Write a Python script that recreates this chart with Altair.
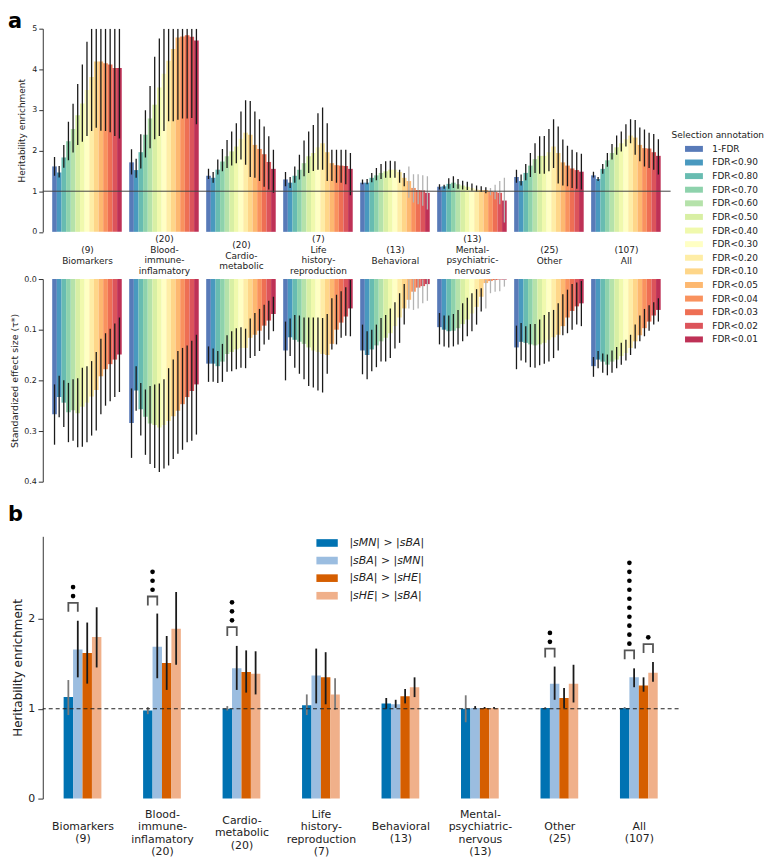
import json
import altair as alt
import pandas as pd

# ---------------- data ----------------
top_labels = ["(9)\nBiomarkers", "(20)\nBlood-\nimmune-\ninflamatory", "(20)\nCardio-\nmetabolic",
              "(7)\nLife\nhistory-\nreproduction", "(13)\nBehavioral", "(13)\nMental-\npsychiatric-\nnervous",
              "(25)\nOther", "(107)\nAll"]
b_labels = ["Biomarkers\n(9)", "Blood-\nimmune-\ninflamatory\n(20)", "Cardio-\nmetabolic\n(20)",
            "Life\nhistory-\nreproduction\n(7)", "Behavioral\n(13)", "Mental-\npsychiatric-\nnervous\n(13)",
            "Other\n(25)", "All\n(107)"]
fdr_labels = ["1-FDR", "FDR<0.90", "FDR<0.80", "FDR<0.70", "FDR<0.60", "FDR<0.50", "FDR<0.40",
              "FDR<0.30", "FDR<0.20", "FDR<0.10", "FDR<0.05", "FDR<0.04", "FDR<0.03", "FDR<0.02", "FDR<0.01"]
fdr_colors = ["#4a6fb2", "#3990ba", "#5bb6aa", "#84cea5", "#afdfa3", "#d5ee9c", "#eff9a6", "#ffffbf",
              "#feeb9e", "#fed27f", "#fdb264", "#f88950", "#ed6345", "#d9454d", "#b92048"]

# heritability enrichment (panel a, top)
enrich = [
    [1.61, 1.46, 1.83, 2.23, 2.53, 2.87, 3.16, 3.49, 3.81, 4.19, 4.19, 4.15, 4.12, 4.03, 4.03],
    [1.71, 1.52, 1.96, 2.39, 2.79, 3.13, 3.55, 3.89, 4.21, 4.50, 4.78, 4.81, 4.84, 4.80, 4.71],
    [1.38, 1.33, 1.53, 1.73, 1.86, 1.98, 2.10, 2.29, 2.44, 2.39, 2.14, 2.04, 1.91, 1.72, 1.55],
    [1.29, 1.21, 1.38, 1.53, 1.69, 1.86, 1.94, 2.08, 2.18, 1.96, 1.69, 1.64, 1.63, 1.62, 1.55],
    [1.21, 1.21, 1.33, 1.39, 1.45, 1.49, 1.53, 1.53, 1.47, 1.33, 1.25, 1.08, 1.03, 1.02, 0.96],
    [1.11, 1.12, 1.18, 1.21, 1.17, 1.14, 1.11, 1.08, 1.04, 1.03, 1.03, 1.00, 0.98, 0.96, 0.77],
    [1.35, 1.25, 1.45, 1.63, 1.79, 1.87, 1.87, 1.96, 2.10, 1.94, 1.71, 1.63, 1.56, 1.52, 1.48],
    [1.39, 1.30, 1.55, 1.76, 1.94, 2.08, 2.18, 2.28, 2.37, 2.32, 2.14, 2.06, 2.05, 1.96, 1.87],
]
enrich_lo = [
    [1.38, 1.34, 1.58, 1.76, 1.95, 2.14, 2.22, 2.36, 2.48, 2.56, 2.49, 2.48, 2.45, 2.36, 2.30],
    [1.41, 1.33, 1.56, 1.83, 2.06, 2.28, 2.36, 2.48, 2.72, 2.72, 2.76, 2.79, 2.79, 2.80, 2.65],
    [1.30, 1.21, 1.41, 1.49, 1.57, 1.63, 1.69, 1.78, 1.65, 1.35, 1.33, 1.25, 1.11, 1.04, 0.96],
    [1.12, 1.08, 1.21, 1.29, 1.37, 1.45, 1.50, 1.53, 1.53, 1.25, 1.25, 1.21, 1.21, 1.17, 0.90],
    [1.17, 1.17, 1.22, 1.27, 1.30, 1.33, 1.33, 1.33, 1.21, 1.12, 0.84, 0.72, 0.68, 0.64, 0.55],
    [1.04, 1.06, 1.06, 1.08, 1.06, 1.04, 1.03, 1.01, 0.99, 0.98, 0.95, 0.90, 0.80, 0.68, 0.23],
    [1.21, 1.14, 1.27, 1.35, 1.45, 1.43, 1.43, 1.49, 1.57, 1.19, 1.14, 1.12, 1.08, 1.06, 1.04],
    [1.34, 1.25, 1.43, 1.60, 1.78, 1.90, 1.98, 2.10, 2.18, 1.90, 1.74, 1.61, 1.57, 1.53, 1.41],
]
enrich_hi = [
    [1.84, 1.62, 2.14, 2.71, 3.15, 3.64, 4.12, 4.68, 5.40, 5.50, 5.60, 5.60, 5.60, 5.50, 5.50],
    [2.03, 1.80, 2.40, 2.99, 3.59, 4.31, 4.76, 5.50, 5.60, 5.60, 5.60, 5.60, 5.60, 5.60, 5.60],
    [1.55, 1.47, 1.78, 2.04, 2.26, 2.47, 2.67, 2.96, 3.24, 3.22, 2.96, 2.77, 2.59, 2.35, 2.02],
    [1.47, 1.35, 1.61, 1.90, 2.25, 2.47, 2.63, 2.92, 3.06, 2.67, 2.02, 2.02, 2.02, 2.02, 1.94],
    [1.29, 1.30, 1.45, 1.57, 1.67, 1.74, 1.75, 1.74, 1.53, 1.45, 1.61, 1.42, 1.42, 1.39, 1.37],
    [1.17, 1.16, 1.32, 1.37, 1.30, 1.26, 1.23, 1.19, 1.14, 1.12, 1.10, 1.08, 1.16, 1.25, 1.33],
    [1.53, 1.41, 1.67, 1.94, 2.18, 2.35, 2.36, 2.53, 2.77, 2.59, 2.27, 2.12, 2.02, 1.96, 1.92],
    [1.48, 1.35, 1.67, 1.94, 2.16, 2.37, 2.47, 2.65, 2.77, 2.75, 2.57, 2.52, 2.44, 2.41, 2.28],
]
# standardized effect size (panel a, bottom)
effect = [
    [0.267, 0.233, 0.244, 0.263, 0.259, 0.265, 0.252, 0.244, 0.232, 0.219, 0.192, 0.178, 0.168, 0.159, 0.149],
    [0.284, 0.220, 0.257, 0.272, 0.285, 0.288, 0.293, 0.288, 0.280, 0.271, 0.260, 0.247, 0.233, 0.221, 0.208],
    [0.167, 0.167, 0.172, 0.163, 0.148, 0.144, 0.139, 0.136, 0.136, 0.116, 0.110, 0.102, 0.092, 0.082, 0.069],
    [0.141, 0.115, 0.120, 0.124, 0.128, 0.135, 0.141, 0.144, 0.148, 0.150, 0.128, 0.100, 0.086, 0.074, 0.058],
    [0.141, 0.150, 0.139, 0.131, 0.123, 0.116, 0.107, 0.093, 0.076, 0.058, 0.041, 0.025, 0.017, 0.014, 0.010],
    [0.095, 0.100, 0.103, 0.102, 0.097, 0.089, 0.080, 0.068, 0.055, 0.035, 0.008, 0.004, 0.002, 0.001, 0.001],
    [0.135, 0.124, 0.126, 0.129, 0.131, 0.129, 0.126, 0.120, 0.115, 0.110, 0.093, 0.076, 0.063, 0.054, 0.048],
    [0.172, 0.159, 0.163, 0.169, 0.163, 0.159, 0.152, 0.146, 0.136, 0.123, 0.111, 0.097, 0.084, 0.072, 0.061],
]
effect_lo = [
    [0.208, 0.191, 0.200, 0.205, 0.198, 0.196, 0.175, 0.172, 0.162, 0.144, 0.118, 0.107, 0.098, 0.088, 0.076],
    [0.216, 0.172, 0.205, 0.218, 0.211, 0.208, 0.206, 0.198, 0.176, 0.159, 0.142, 0.136, 0.131, 0.122, 0.110],
    [0.133, 0.137, 0.142, 0.128, 0.111, 0.103, 0.097, 0.095, 0.098, 0.078, 0.067, 0.059, 0.051, 0.043, 0.035],
    [0.084, 0.078, 0.071, 0.072, 0.076, 0.076, 0.076, 0.076, 0.077, 0.069, 0.038, 0.031, 0.024, 0.016, 0.002],
    [0.090, 0.103, 0.100, 0.090, 0.077, 0.071, 0.058, 0.046, 0.028, 0.010, 0.001, 0.000, 0.000, 0.001, 0.000],
    [0.067, 0.072, 0.072, 0.069, 0.061, 0.048, 0.037, 0.028, 0.020, 0.018, 0.002, 0.000, 0.000, 0.000, 0.000],
    [0.092, 0.087, 0.093, 0.089, 0.089, 0.080, 0.071, 0.065, 0.061, 0.048, 0.030, 0.021, 0.010, 0.007, 0.004],
    [0.154, 0.142, 0.147, 0.149, 0.141, 0.134, 0.126, 0.120, 0.110, 0.090, 0.072, 0.059, 0.052, 0.046, 0.038],
]
effect_hi = [
    [0.327, 0.273, 0.292, 0.322, 0.319, 0.332, 0.331, 0.322, 0.309, 0.299, 0.267, 0.250, 0.241, 0.233, 0.223],
    [0.353, 0.260, 0.309, 0.347, 0.365, 0.373, 0.381, 0.374, 0.368, 0.355, 0.345, 0.337, 0.322, 0.319, 0.307],
    [0.203, 0.203, 0.205, 0.203, 0.183, 0.182, 0.178, 0.175, 0.176, 0.156, 0.152, 0.142, 0.129, 0.120, 0.103],
    [0.200, 0.152, 0.175, 0.187, 0.198, 0.211, 0.214, 0.220, 0.224, 0.187, 0.139, 0.129, 0.116, 0.112, 0.113],
    [0.188, 0.198, 0.182, 0.174, 0.163, 0.163, 0.156, 0.137, 0.126, 0.090, 0.058, 0.061, 0.058, 0.048, 0.043],
    [0.129, 0.133, 0.135, 0.133, 0.129, 0.123, 0.113, 0.103, 0.090, 0.064, 0.058, 0.028, 0.025, 0.024, 0.015],
    [0.178, 0.161, 0.165, 0.174, 0.175, 0.170, 0.167, 0.163, 0.156, 0.141, 0.111, 0.107, 0.100, 0.090, 0.093],
    [0.193, 0.176, 0.185, 0.190, 0.185, 0.176, 0.169, 0.161, 0.150, 0.137, 0.123, 0.113, 0.102, 0.090, 0.084],
]
# error bars drawn faint (not significant)
faint_top = [[], [], [], [], [10, 11, 12, 13, 14], [11, 12, 13, 14], [], []]
faint_mid = [[], [], [], [], [10, 11, 12, 13, 14], [10, 11, 12, 13, 14], [], []]

# panel b
b_series = ["|sMN| > |sBA|", "|sBA| > |sMN|", "|sBA| > |sHE|", "|sHE| > |sBA|"]
b_colors = ["#0072b2", "#9bbde0", "#d55e00", "#f0b08a"]
b_val = [[1.13, 1.66, 1.62, 1.80], [0.98, 1.69, 1.51, 1.89], [1.00, 1.45, 1.41, 1.39], [1.04, 1.37, 1.35, 1.16],
         [1.06, 1.05, 1.14, 1.24], [1.00, 1.01, 1.01, 1.01], [1.01, 1.28, 1.12, 1.28], [1.01, 1.35, 1.26, 1.40]]
b_lo = [[0.93, 1.35, 1.28, 1.46], [0.94, 1.34, 1.21, 1.49], [0.98, 1.21, 1.18, 1.16], [0.93, 1.06, 1.05, 0.99],
        [1.00, 1.01, 1.06, 1.13], [0.85, 1.00, 1.00, 1.00], [1.00, 1.10, 1.01, 1.07], [1.00, 1.24, 1.19, 1.30]]
b_hi = [[1.32, 1.98, 1.96, 2.13], [1.02, 2.06, 1.81, 2.30], [1.03, 1.70, 1.65, 1.64], [1.16, 1.67, 1.63, 1.34],
        [1.12, 1.10, 1.22, 1.35], [1.15, 1.03, 1.02, 1.02], [1.02, 1.47, 1.23, 1.49], [1.02, 1.45, 1.35, 1.52]]
b_faint = [[0], [0], [0], [0, 3], [], [0], [0], [0]]
sig_group = [0, 1, 2, 6, 7, 7]
sig_left = [0, 0, 0, 0, 0, 2]
sig_right = [1, 1, 1, 1, 1, 3]
sig_top = [2.18, 2.25, 1.91, 1.67, 1.65, 1.72]
sig_dots = [2, 3, 3, 2, 10, 1]

# ---------------- layout constants ----------------
BW = 70 / 15 / 77.5          # bar width in group units (top panels)
XT = [-44.5 / 77.5, -44.5 / 77.5 + 632 / 77.5]
BWB = 9.5 / 80               # bar width in group units (panel b)
DARK, FAINT = "#1a1a1a", "#b3b3b3"
TXT = "#222222"

rows = []
for g in range(8):
    for k in range(15):
        x0 = g + (k - 7.5) * BW
        rows.append(dict(x0=x0, x1=x0 + BW, xc=x0 + BW / 2, fdr=fdr_labels[k], zero=0.0,
                         enr=enrich[g][k], lo=enrich_lo[g][k], hi=enrich_hi[g][k],
                         eff=effect[g][k], elo=effect_lo[g][k], ehi=effect_hi[g][k],
                         ect=FAINT if k in faint_top[g] else DARK,
                         ecm=FAINT if k in faint_mid[g] else DARK))
df_top = pd.DataFrame(rows)

brow = []
for g in range(8):
    for s in range(4):
        x0 = g + (s - 2) * BWB
        brow.append(dict(x0=x0, x1=x0 + BWB, xc=x0 + BWB / 2, series=b_series[s], zero=0.0,
                         val=b_val[g][s], lo=b_lo[g][s], hi=b_hi[g][s],
                         ec="#7a7a7a" if s in b_faint[g] else DARK))
df_b = pd.DataFrame(brow)


def bar_center(g, s):
    return g + (s - 1.5) * BWB


br_rows, dot_rows = [], []
for i in range(len(sig_group)):
    xa = bar_center(sig_group[i], sig_left[i])
    xb = bar_center(sig_group[i], sig_right[i])
    t = sig_top[i]
    for o, (xx, yy) in enumerate([(xa, t - 0.1), (xa, t), (xb, t), (xb, t - 0.1)]):
        br_rows.append(dict(bid=i, ord=o, bx=xx, by=yy))
    for j in range(sig_dots[i]):
        dot_rows.append(dict(px=(xa + xb) / 2, py=t + 0.075 + 0.1 * j))
df_br = pd.DataFrame(br_rows)
df_dot = pd.DataFrame(dot_rows)


def baseline_cond(labels):
    n = [l.count("\n") + 1 for l in labels]
    i4 = [i for i, v in enumerate(n) if v == 4]
    i3 = [i for i, v in enumerate(n) if v == 3]
    return {"condition": [
        {"test": f"indexof({json.dumps(i4)}, datum.value) >= 0", "value": "line-bottom"},
        {"test": f"indexof({json.dumps(i3)}, datum.value) >= 0", "value": "middle"}],
        "value": "line-top"}


# ---------------- panel a, top ----------------
xs_top = alt.Scale(domain=XT, nice=False, zero=False)
ys_top = alt.Scale(domain=[0, 5], nice=False, clamp=True)
top_xaxis = alt.Axis(values=list(range(8)), labelExpr="split(" + json.dumps(top_labels) + "[datum.value], '\\n')",
                     labelBaseline=baseline_cond(top_labels), labelFontSize=9, labelLineHeight=10.5,
                     labelPadding=13, ticks=False, tickSize=0, domain=False, grid=False,
                     labelFlush=False, labelOverlap=False, labelAlign="center", title=None, labelColor=TXT)

bars_top = alt.Chart(df_top).mark_bar(opacity=0.92).encode(
    x=alt.X("x0:Q", scale=xs_top, axis=top_xaxis),
    x2="x1:Q",
    y=alt.Y("enr:Q", scale=ys_top,
            axis=alt.Axis(values=[0, 1, 2, 3, 4, 5], title="Heritability enrichment", titleFontSize=9,
                          titlePadding=5, labelFontSize=8, tickSize=4, labelPadding=2, grid=False)),
    y2="zero:Q",
    color=alt.Color("fdr:N", scale=alt.Scale(domain=fdr_labels, range=fdr_colors),
                    legend=alt.Legend(title="Selection annotation", orient="none", legendX=633, legendY=103.5,
                                      titleFontSize=9, titleFontWeight="normal", titleColor=TXT, titlePadding=4,
                                      labelFontSize=9, labelColor=TXT, symbolType="M-3,-1H3V1H-3Z",
                                      symbolSize=36, symbolStrokeWidth=0, symbolOffset=18, labelOffset=14,
                                      rowPadding=3.7, padding=0, symbolOpacity=0.92)),
)
err_top = alt.Chart(df_top).mark_rule(strokeWidth=1.3, clip=True).encode(
    x=alt.X("xc:Q", scale=xs_top), y=alt.Y("lo:Q", scale=ys_top), y2="hi:Q",
    color=alt.Color("ect:N", scale=None))
ref_top = alt.Chart(pd.DataFrame({"ref": [1]})).mark_rule(color="#444444", strokeWidth=1).encode(
    y=alt.Y("ref:Q", scale=ys_top))

top = alt.layer(bars_top, err_top, ref_top).properties(
    width=632, height=204.5,
    title=alt.TitleParams("a", anchor="start", frame="group", dx=-35, dy=24, offset=0, baseline="alphabetic",
                          fontSize=21, fontWeight="bold", color="black"))

# ---------------- panel a, bottom ----------------
bars_mid = alt.Chart(df_top).mark_bar(opacity=0.92).encode(
    x=alt.X("x0:Q", scale=xs_top, axis=None),
    x2="x1:Q",
    y=alt.Y("eff:Q", scale=alt.Scale(domain=[0, 0.4], nice=False, reverse=True),
            axis=alt.Axis(values=[0, 0.1, 0.2, 0.3, 0.4], format=".1f", title="Standardized effect size (τ*)",
                          titleFontSize=9.5, titlePadding=4, labelFontSize=8, tickSize=4.5, labelPadding=2,
                          grid=False)),
    y2="zero:Q",
    color=alt.Color("fdr:N", scale=alt.Scale(domain=fdr_labels, range=fdr_colors), legend=None),
)
err_mid = alt.Chart(df_top).mark_rule(strokeWidth=1.3).encode(
    x="xc:Q", y="elo:Q", y2="ehi:Q", color=alt.Color("ecm:N", scale=None))
mid = alt.layer(bars_mid, err_mid).properties(width=632, height=204)

# ---------------- panel b ----------------
xs_b = alt.Scale(domain=[-0.5, 7.5], nice=False, zero=False)
ys_b = alt.Scale(domain=[0, 2.92], nice=False)
b_xaxis = alt.Axis(values=list(range(8)), labelExpr="split(" + json.dumps(b_labels) + "[datum.value], '\\n')",
                   labelBaseline=baseline_cond(b_labels), labelFontSize=11, labelLineHeight=12.5,
                   labelPadding=22, ticks=False, tickSize=0, domain=False, grid=False,
                   labelFlush=False, labelOverlap=False, labelAlign="center", title=None, labelColor=TXT)
bars_b = alt.Chart(df_b).mark_bar().encode(
    x=alt.X("x0:Q", scale=xs_b, axis=b_xaxis),
    x2="x1:Q",
    y=alt.Y("val:Q", scale=ys_b,
            axis=alt.Axis(values=[0, 1, 2], format="d", title="Heritability enrichment", titleFontSize=12,
                          titlePadding=3, labelFontSize=11, tickSize=5, labelPadding=3, grid=False)),
    y2="zero:Q",
    color=alt.Color("series:N", scale=alt.Scale(domain=b_series, range=b_colors),
                    legend=alt.Legend(title=None, orient="none", legendX=273.7, legendY=1.2,
                                      labelFontSize=11, labelFontStyle="italic", labelColor=TXT,
                                      symbolType="M-2.8,-1H2.8V1H-2.8Z", symbolSize=59, symbolStrokeWidth=0,
                                      symbolOffset=7, labelOffset=17, rowPadding=5.7, padding=0)),
)
err_b = alt.Chart(df_b).mark_rule(strokeWidth=1.8).encode(
    x="xc:Q", y="lo:Q", y2="hi:Q", color=alt.Color("ec:N", scale=None))
dash_b = alt.Chart(pd.DataFrame({"ref": [1]})).mark_rule(color="#222222", strokeWidth=1.1,
                                                        strokeDash=[4, 3]).encode(y="ref:Q")
br_b = alt.Chart(df_br).mark_line(color="#555555", strokeWidth=1.8).encode(
    x=alt.X("bx:Q", scale=xs_b), y=alt.Y("by:Q", scale=ys_b), detail="bid:N", order="ord:Q")
dots_b = alt.Chart(df_dot).mark_circle(size=22, color="black", opacity=1).encode(
    x=alt.X("px:Q", scale=xs_b), y=alt.Y("py:Q", scale=ys_b))

pb = alt.layer(bars_b, err_b, dash_b, br_b, dots_b).properties(
    width=640, height=264,
    title=alt.TitleParams("b", anchor="start", frame="group", dx=-35, dy=19, offset=13, baseline="alphabetic",
                          fontSize=21, fontWeight="bold", color="black"))


def spacer(h):
    return alt.Chart(pd.DataFrame({"s": [0]})).mark_point(opacity=0).encode(
        x=alt.value(0), y=alt.value(0)).properties(width=10, height=h)


chart = alt.vconcat(top, spacer(47), mid, spacer(55), pb, spacing=0, bounds="flush").resolve_scale(
    color="independent", x="independent", y="independent").properties(padding=0).configure(
    font="DejaVu Sans").configure_view(stroke=None).configure_axis(
    labelColor=TXT, titleColor=TXT, domainColor="#333333", tickColor="#333333",
    titleFontWeight="normal", grid=False)

chart.save("out.html", embed_options={"renderer": "svg", "actions": False})
